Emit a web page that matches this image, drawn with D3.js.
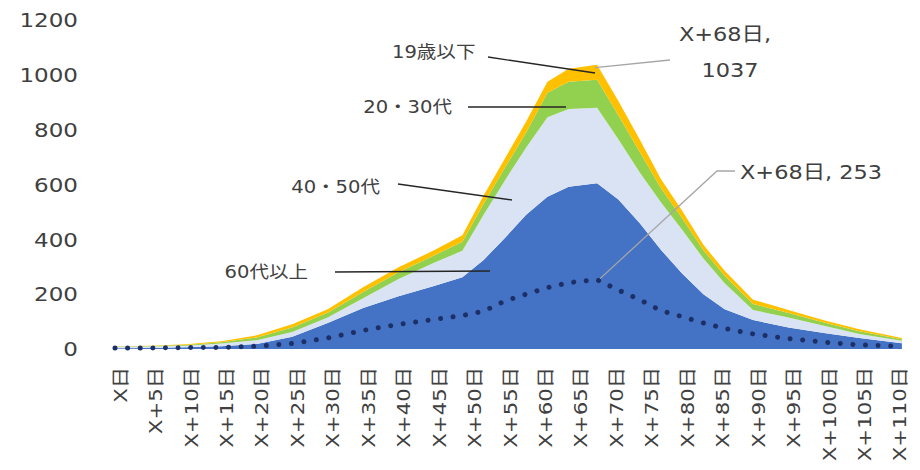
<!DOCTYPE html>
<html><head><meta charset="utf-8">
<script src="https://cdn.jsdelivr.net/npm/d3@7"></script>
<style>body{margin:0;background:#fff} svg{display:block}</style>
</head><body>
<svg id="c" width="920" height="470"></svg>
<script>
// ---- data ----
const days        = [0,5,10,15,20,25,30,35,40,45,49,52,55,58,61,64,68,71,74,77,80,83,86,90,95,100,105,111];
const age60plus   = [3,4,6,10,18,45,95,150,192,230,262,325,405,490,555,592,605,545,460,362,275,200,145,106,78,58,40,21];
const age4050     = [5,5,6,10,14,17,20,35,63,85,96,165,210,245,290,283,275,220,185,173,160,130,95,36,37,27,15,9];
const age2030     = [1,2,3,5,10,16,17,23,25,26,33,40,46,55,90,100,102,88,74,52,42,30,27,22,16,12,10,6];
const age19under  = [1,1,2,3,8,12,13,17,18,19,24,30,34,40,40,47,55,52,46,33,27,20,18,16,11,8,7,4];
const dottedLine  = [4,4,5,6,10,20,40,68,90,108,122,138,175,200,224,242,253,215,180,140,118,95,75,55,38,25,15,10];
const seriesNames = ["60代以上","40・50代","20・30代","19歳以下"];
const seriesColors= ["#4472C4","#DAE3F3","#92D050","#FFC000"];
const yTicks      = [0,200,400,600,800,1000,1200];
const xTickDays   = [0,5,10,15,20,25,30,35,40,45,50,55,60,65,70,75,80,85,90,95,100,105,110];
const xTickLabels = ["X日","X+5日","X+10日","X+15日","X+20日","X+25日","X+30日","X+35日","X+40日","X+45日","X+50日","X+55日","X+60日","X+65日","X+70日","X+75日","X+80日","X+85日","X+90日","X+95日","X+100日","X+105日","X+110日"];
const peakDay = 68, peakTotal = 1037, peakDotted = 253;

// ---- drawing ----
const svg = d3.select("#c");
const FONT = "'DejaVu Sans','Noto Sans CJK JP',sans-serif";
const TXT = "#404040";
const SX = 1.15;

const x = d3.scaleLinear().domain([0,112]).range([115,909]);
const y = d3.scaleLinear().domain([0,1200]).range([349,20]);

const rows = days.map((d,i)=>({day:d, s0:age60plus[i], s1:age4050[i], s2:age2030[i], s3:age19under[i]}));
const stack = d3.stack().keys(["s0","s1","s2","s3"])(rows);

const area = d3.area().x(d=>x(d.data.day)).y0(d=>y(d[0])).y1(d=>y(d[1]));
svg.append("g").selectAll("path").data(stack).join("path")
  .attr("d", area).attr("fill", (d,i)=>seriesColors[i]);

// dotted line
const line = d3.line().x((d,i)=>x(days[i])).y(d=>y(d));
svg.append("path").attr("d", line(dottedLine))
  .attr("fill","none").attr("stroke","#1c2f66").attr("stroke-width",5)
  .attr("stroke-linecap","round").attr("stroke-dasharray","0.01 12.6");

// y axis labels
svg.append("g").selectAll("text").data(yTicks).join("text")
  .attr("transform", v=>`translate(78,${y(v)}) scale(${SX},1)`)
  .attr("dy","0.36em").attr("text-anchor","end")
  .attr("font-family",FONT).attr("font-size",20).attr("fill",TXT)
  .text(v=>v);

// x axis labels
svg.append("g").selectAll("text").data(xTickDays).join("text")
  .attr("transform", (d)=>`translate(${x(d)+5},367) rotate(-90) scale(${SX},1)`)
  .attr("dy","0.36em").attr("text-anchor","end")
  .attr("font-family",FONT).attr("font-size",18.5).attr("fill",TXT)
  .text((d,i)=>xTickLabels[i]);

// annotations
function label(tx, ty, anchor, size, str){
  svg.append("text").attr("transform",`translate(${tx},${ty}) scale(${SX},1)`)
    .attr("dy","0.36em").attr("text-anchor",anchor)
    .attr("font-family",FONT).attr("font-size",size).attr("fill",TXT).text(str);
}
function leader(pts, color){
  svg.append("polyline").attr("points", pts.map(p=>p.join(",")).join(" "))
    .attr("fill","none").attr("stroke",color).attr("stroke-width",1.3);
}
const pk = x(peakDay);
// series name labels
label(392, 52, "start", 17, seriesNames[3]);
leader([[488,57],[pk-2,73]], "#262626");
label(452, 107, "end", 17, seriesNames[2]);
leader([[468,107],[566,107]], "#262626");
label(380, 187, "end", 17, seriesNames[1]);
leader([[398,184],[512,200]], "#262626");
label(308, 272, "end", 17, seriesNames[0]);
leader([[335,272],[490,271]], "#262626");
// peak data labels
label(725, 34, "middle", 19.5, `X+${peakDay}日,`);
label(730, 70, "middle", 19.5, `${peakTotal}`);
leader([[pk-2,y(peakTotal)+3],[670,60]], "#a6a6a6");
label(740, 172, "start", 19.5, `X+${peakDay}日, ${peakDotted}`);
leader([[735,171],[717,171],[pk+3,y(peakDotted)-1]], "#a6a6a6");
</script>
</body></html>
